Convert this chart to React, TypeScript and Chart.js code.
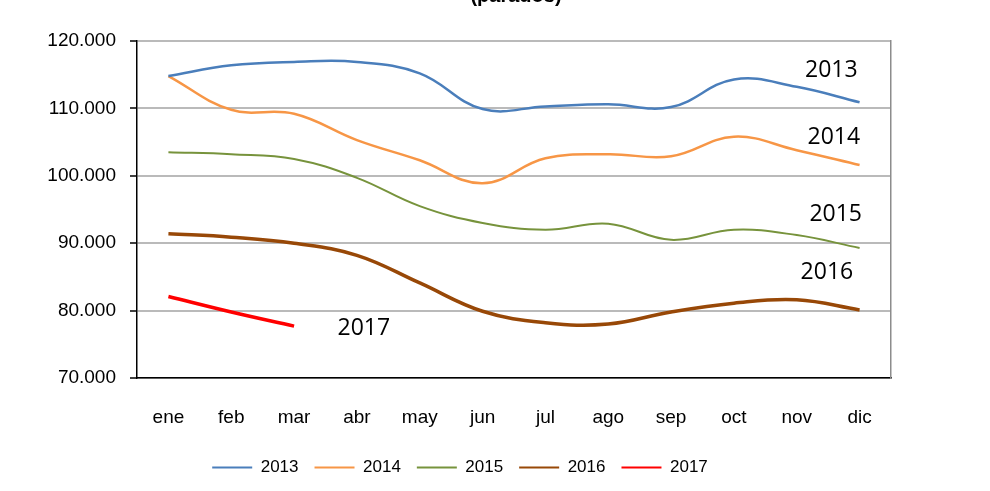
import React, { useEffect, useRef } from "react";
import { Chart, registerables } from "chart.js";

Chart.register(...registerables);

const months = ["ene", "feb", "mar", "abr", "may", "jun", "jul", "ago", "sep", "oct", "nov", "dic"];
const s2013 = [114800, 116400, 116900, 116900, 115200, 109900, 110300, 110600, 110200, 114300, 113200, 110900];
const s2014 = [114800, 109800, 109200, 105300, 102300, 98900, 102600, 103200, 102900, 105800, 103800, 101600];
const s2015 = [103500, 103200, 102500, 99700, 95500, 93000, 92000, 92900, 90500, 92000, 91200, 89300];
const s2016 = [91400, 90900, 90000, 88200, 84100, 79900, 78200, 78000, 79800, 81100, 81600, 80100];
const s2017 = [82100, 79800, 77700];

const seriesNames = ["2013", "2014", "2015", "2016", "2017"];
const seriesColors = ["#4a7ebb", "#f79646", "#77933c", "#984807", "#ff0000"];
const seriesWidths = [2.5, 2.5, 2, 3.5, 3.5];

const yMin = 70000;
const yMax = 120000;
const yStep = 10000;

const titleText = "(parados)";

// in-chart series labels: [text, category position, value]
const labelTexts = ["2013", "2014", "2015", "2016", "2017"];
const labelXs = [10.55, 10.59, 10.62, 10.48, 3.11];
const labelYs = [115600, 105750, 94200, 85600, 77300];

function fmt(v: number): string {
  const s = Math.round(v).toString();
  return s.replace(/\B(?=(\d{3})+(?!\d))/g, ".");
}

const overlayPlugin = {
  id: "overlay",
  afterDatasetsDraw(chart: any) {
    const ctx = chart.ctx;
    const xs = chart.scales.x;
    const ys = chart.scales.y;
    ctx.save();
    ctx.fillStyle = "#000";
    ctx.font = "23px 'Open Sans'";
    ctx.textAlign = "center";
    ctx.textBaseline = "middle";
    for (let i = 0; i < labelTexts.length; i++) {
      ctx.fillText(labelTexts[i], xs.getPixelForValue(labelXs[i]), ys.getPixelForValue(labelYs[i]));
    }
    ctx.font = "bold 20px 'Liberation Sans'";
    ctx.textBaseline = "alphabetic";
    ctx.fillText(titleText, (chart.chartArea.left + chart.chartArea.right) / 2 + 2, 2);
    ctx.restore();
  },
};

export default function App() {
  const ref = useRef<HTMLCanvasElement>(null);
  useEffect(() => {
    document.body.style.margin = "0";
    const data = [s2013, s2014, s2015, s2016, s2017];
    const chart = new Chart(ref.current!, {
      type: "line",
      data: {
        labels: months,
        datasets: data.map((d, i) => ({
          label: seriesNames[i],
          data: d,
          borderColor: seriesColors[i],
          backgroundColor: seriesColors[i],
          borderWidth: seriesWidths[i],
          pointRadius: 0,
          tension: 0.4,
          fill: false,
          yAxisID: "y",
        })),
      },
      options: {
        responsive: false,
        animation: false,
        layout: { padding: { left: 0, right: 70, top: 41, bottom: 5 } },
        plugins: {
          legend: {
            position: "bottom",
            labels: {
              boxWidth: 40,
              boxHeight: 2,
              padding: 16,
              color: "#000",
              font: { family: "'Liberation Sans'", size: 17 },
              generateLabels: (chart: any) =>
                chart.data.datasets.map((ds: any, i: number) => ({
                  text: ds.label,
                  fillStyle: ds.borderColor,
                  strokeStyle: ds.borderColor,
                  lineWidth: 0,
                  hidden: false,
                  datasetIndex: i,
                  fontColor: "#000",
                })),
            },
          },
          tooltip: { enabled: false },
        },
        scales: {
          x: {
            type: "category",
            offset: true,
            grid: { display: false },
            border: { display: true, color: "#000", width: 1.5 },
            ticks: {
              color: "#000",
              padding: 20,
              maxRotation: 0,
              autoSkip: false,
              font: { family: "'Liberation Sans'", size: 19 },
            },
            afterFit: (s: any) => {
              s.height = 65;
            },
          },
          y: {
            type: "linear",
            position: "left",
            min: yMin,
            max: yMax,
            grid: {
              color: "#bababa",
              lineWidth: 2,
              drawTicks: true,
              tickLength: 7,
              tickColor: "#000",
              tickWidth: 1.5,
            },
            border: { display: true, color: "#000", width: 1.5 },
            ticks: {
              stepSize: yStep,
              color: "#000",
              padding: 14,
              font: { family: "'Liberation Sans'", size: 19 },
              callback: (v: any) => fmt(Number(v)),
            },
            afterFit: (s: any) => {
              s.width = 137;
            },
          },
          y2: {
            type: "linear",
            position: "right",
            grid: { display: false },
            border: { display: true, color: "#8c8c8c", width: 1.5 },
            ticks: { display: false },
            afterFit: (s: any) => {
              s.width = 29;
            },
          },
        },
      },
      plugins: [overlayPlugin],
    });
    return () => chart.destroy();
  }, []);
  return (
    <div style={{ width: 990, height: 491 }}>
      <canvas ref={ref} width={990} height={491} />
    </div>
  );
}
